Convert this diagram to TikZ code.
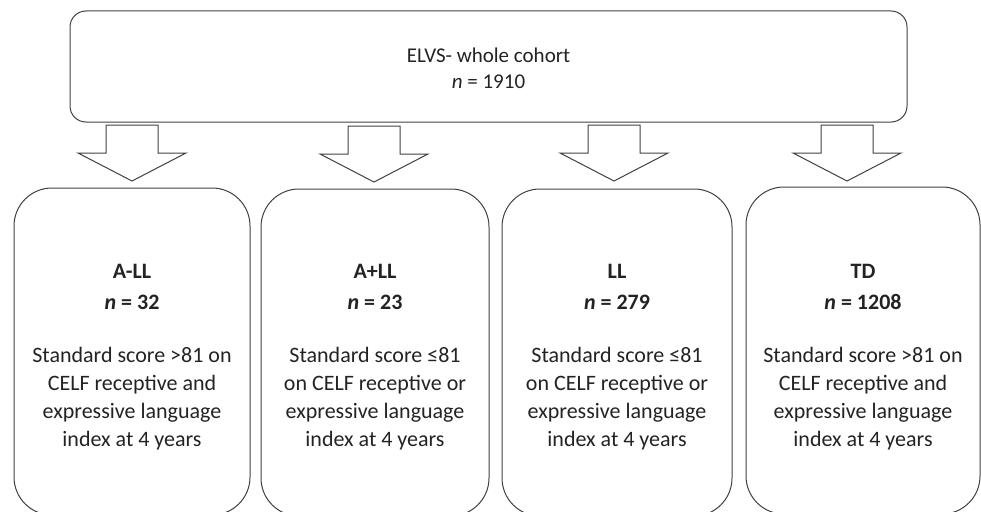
\documentclass[tikz,border=0pt]{standalone}
\usepackage{fontspec}
\setmainfont{Carlito}
\definecolor{edge}{RGB}{64,64,64}
\definecolor{ink}{RGB}{35,35,35}
\begin{document}
\begin{tikzpicture}[x=1pt,y=-1pt,
  groupbox/.style={draw=edge,line width=1pt,rounded corners=38pt,rectangle,inner sep=0pt,minimum width=236pt,minimum height=327pt},
  topbox/.style={draw=edge,line width=1pt,rounded corners=16pt,rectangle,inner sep=0pt,minimum width=837pt,minimum height=111pt},
  txt/.style={text=ink,align=center,inner sep=0pt,font=\fontsize{22}{28}\selectfont},
  toptxt/.style={text=ink,align=center,inner sep=0pt,font=\fontsize{21}{26}\selectfont},
  blockarr/.pic={\draw[edge,line width=1pt,line join=miter] (-26,0) -- (26,0) -- (26,28) -- (54,28) -- (0,56) -- (-54,28) -- (-26,28) -- cycle;}
]
\useasboundingbox (0,0) rectangle (981,511);
\clip (0,0) rectangle (981,511);

\node[topbox] (top) at (488.5,66.5) {};
\node[toptxt] (toplabel) at (488.5,68) {ELVS- whole cohort\\\textit{n} = 1910};

\pic (a1) at (132,125) {blockarr};
\pic (a2) at (374,126) {blockarr};
\pic (a3) at (614,125) {blockarr};
\pic (a4) at (847,125) {blockarr};

\node[groupbox] (b1) at (132,351.5) {};
\node[groupbox,minimum width=228pt] (b2) at (375,352.5) {};
\node[groupbox,minimum width=230pt] (b3) at (617,352.5) {};
\node[groupbox,minimum width=234pt] (b4) at (863,350.5) {};

\node[txt] (t1) at (132,357) {\textbf{A-LL}\\[3pt]\textbf{\textit{n} = 32}\\[25pt]Standard score >81 on\\CELF receptive and\\expressive language\\index at 4 years};
\node[txt] (t2) at (375,357) {\textbf{A+LL}\\[3pt]\textbf{\textit{n} = 23}\\[25pt]Standard score ≤81\\on CELF receptive or\\expressive language\\index at 4 years};
\node[txt] (t3) at (617,357) {\textbf{LL}\\[3pt]\textbf{\textit{n} = 279}\\[25pt]Standard score ≤81\\on CELF receptive or\\expressive language\\index at 4 years};
\node[txt] (t4) at (863,357) {\textbf{TD}\\[3pt]\textbf{\textit{n} = 1208}\\[25pt]Standard score >81 on\\CELF receptive and\\expressive language\\index at 4 years};
\end{tikzpicture}
\end{document}
